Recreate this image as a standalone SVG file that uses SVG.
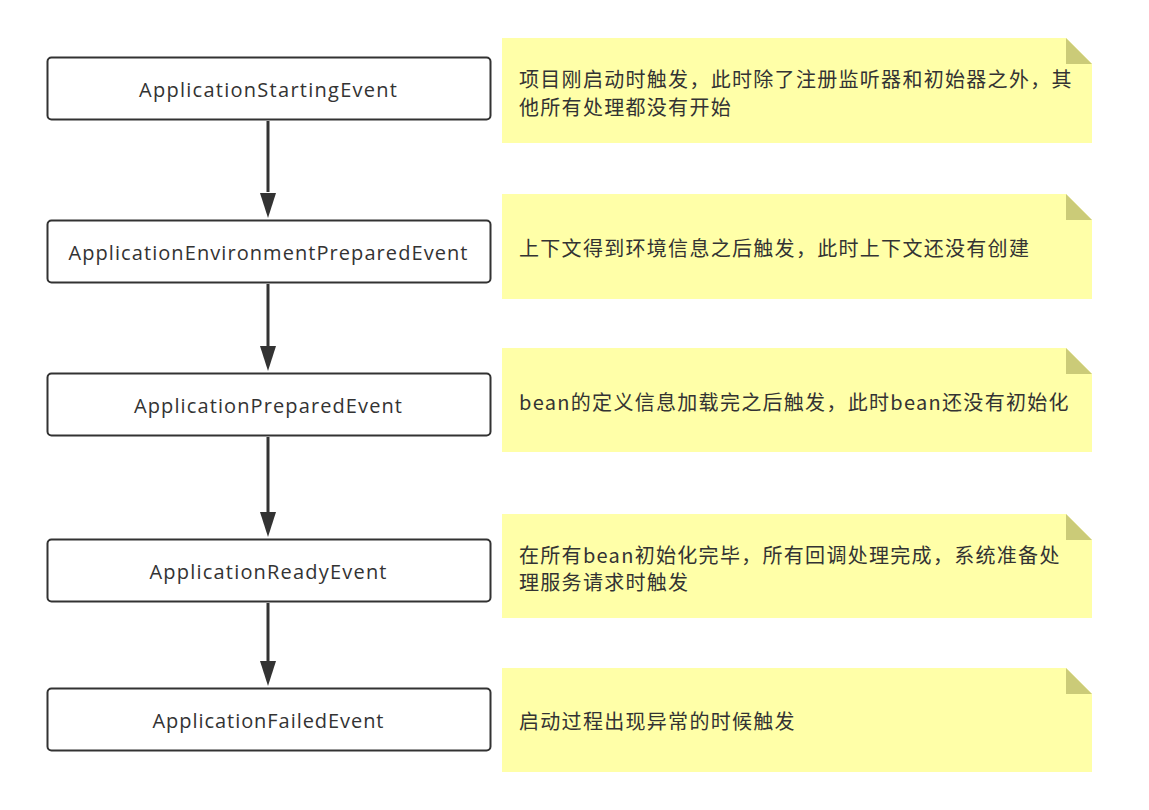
<svg xmlns="http://www.w3.org/2000/svg" width="1149" height="810" viewBox="0 0 1149 810">
<style>
.box{fill:#fff;stroke:#323232;stroke-width:2}
.lbl{font-family:"Open Sans","Noto Sans",sans-serif;font-size:20px;fill:#333;text-anchor:middle;dominant-baseline:central}
.note{fill:#ffffa8}
.fold{fill:#cbcb78}
.nt{font-family:"Noto Sans CJK SC","Noto Sans",sans-serif;font-size:20px;fill:#333;letter-spacing:1.3px;dominant-baseline:central}
.edge{stroke:#333;stroke-width:3;fill:none}
</style>
<rect width="1149" height="810" fill="#fff"/>
<g id="connectors">
<line class="edge" x1="268" y1="121" x2="268" y2="192"/>
<path d="M260,193 L276,193 L268,218 Z" fill="#333"/>
<line class="edge" x1="268" y1="284" x2="268" y2="346"/>
<path d="M260,346 L276,346 L268,371 Z" fill="#333"/>
<line class="edge" x1="268" y1="437" x2="268" y2="512"/>
<path d="M260,512 L276,512 L268,537 Z" fill="#333"/>
<line class="edge" x1="268" y1="603" x2="268" y2="661"/>
<path d="M260,661 L276,661 L268,686 Z" fill="#333"/>
</g>
<g id="n1">
<rect class="box" x="47.5" y="57.5" width="443" height="62" rx="4"/>
<text class="lbl" x="268" y="89" textLength="258">ApplicationStartingEvent</text>
</g>
<g id="n2">
<rect class="box" x="47.5" y="220.5" width="443" height="62" rx="4"/>
<text class="lbl" x="268" y="252" textLength="399">ApplicationEnvironmentPreparedEvent</text>
</g>
<g id="n3">
<rect class="box" x="47.5" y="373.5" width="443" height="62" rx="4"/>
<text class="lbl" x="268" y="405" textLength="268">ApplicationPreparedEvent</text>
</g>
<g id="n4">
<rect class="box" x="47.5" y="539.5" width="443" height="62" rx="4"/>
<text class="lbl" x="268" y="571" textLength="237">ApplicationReadyEvent</text>
</g>
<g id="n5">
<rect class="box" x="47.5" y="688.5" width="443" height="62" rx="4"/>
<text class="lbl" x="268" y="720" textLength="231">ApplicationFailedEvent</text>
</g>
<g id="note1">
<path class="note" d="M502,38 H1066 L1092,64 V143 H502 Z"/>
<path class="fold" d="M1066,38 L1092,64 H1066 Z"/>
<text class="nt" x="519" y="78">项目刚启动时触发，此时除了注册监听器和初始器之外，其</text>
<text class="nt" x="519" y="106">他所有处理都没有开始</text>
</g>
<g id="note2">
<path class="note" d="M502,194 H1066 L1092,220 V299 H502 Z"/>
<path class="fold" d="M1066,194 L1092,220 H1066 Z"/>
<text class="nt" x="519" y="247">上下文得到环境信息之后触发，此时上下文还没有创建</text>
</g>
<g id="note3">
<path class="note" d="M502,348 H1066 L1092,374 V452 H502 Z"/>
<path class="fold" d="M1066,348 L1092,374 H1066 Z"/>
<text class="nt" x="519" y="401">bean的定义信息加载完之后触发，此时bean还没有初始化</text>
</g>
<g id="note4">
<path class="note" d="M502,514 H1066 L1092,540 V618 H502 Z"/>
<path class="fold" d="M1066,514 L1092,540 H1066 Z"/>
<text class="nt" x="519" y="554">在所有bean初始化完毕，所有回调处理完成，系统准备处</text>
<text class="nt" x="519" y="581">理服务请求时触发</text>
</g>
<g id="note5">
<path class="note" d="M502,668 H1066 L1092,694 V772 H502 Z"/>
<path class="fold" d="M1066,668 L1092,694 H1066 Z"/>
<text class="nt" x="519" y="720">启动过程出现异常的时候触发</text>
</g>
</svg>
